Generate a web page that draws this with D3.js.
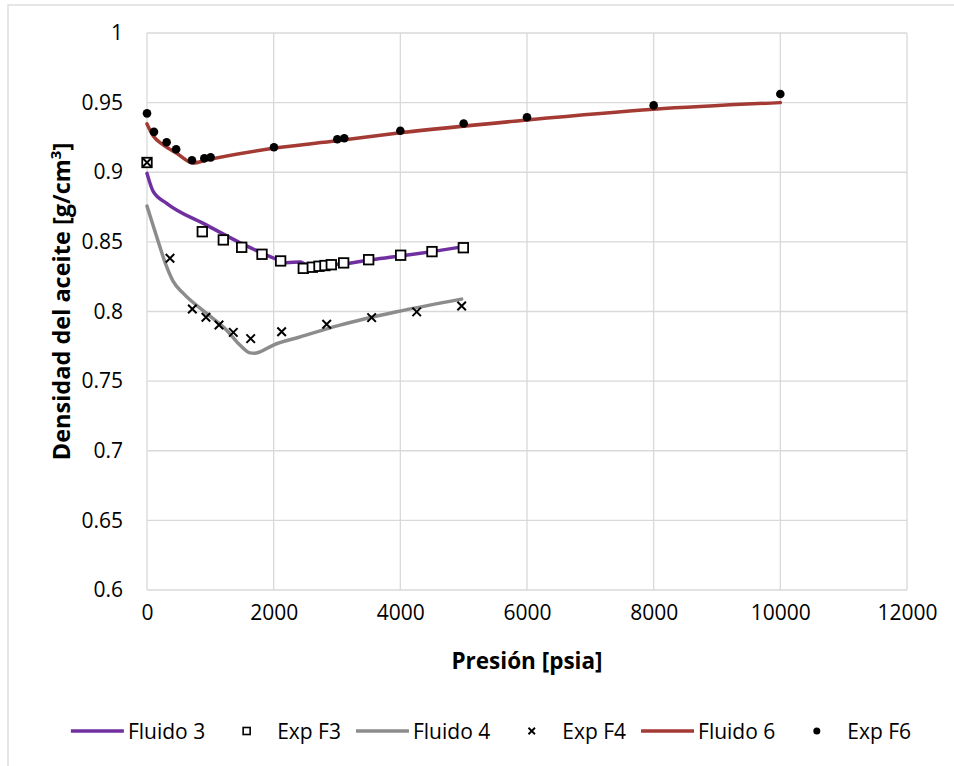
<!DOCTYPE html>
<html>
<head>
<meta charset="utf-8">
<script src="https://cdn.jsdelivr.net/npm/d3@7"></script>
<style>
  html, body { margin: 0; padding: 0; background: #fff; }
  svg { display: block; font-family: "Open Sans", sans-serif; }
</style>
</head>
<body>
<svg id="chart" width="954" height="766"></svg>
<script>
// ---- Data ----
const xTicks = [0, 2000, 4000, 6000, 8000, 10000, 12000];
const yTicks = [0.6, 0.65, 0.7, 0.75, 0.8, 0.85, 0.9, 0.95, 1];

const fluido3P = [0, 100, 310, 942, 1468, 2047, 2205, 2416, 2521, 3047, 3500, 4000, 4500, 5000];
const fluido3D = [0.8992, 0.886, 0.8777, 0.862, 0.8494, 0.8375, 0.8350, 0.8356, 0.8338, 0.8340, 0.837, 0.8398, 0.843, 0.8466];

const expF3P = [0, 873, 1205, 1495, 1816, 2110, 2468, 2610, 2716, 2810, 2910, 3105, 3500, 4005, 4500, 4995];
const expF3D = [0.907, 0.8573, 0.8514, 0.8461, 0.8411, 0.8363, 0.831, 0.8318, 0.8325, 0.833, 0.8336, 0.8349, 0.8372, 0.8404, 0.843, 0.8458];

const fluido4P = [0, 153, 310, 416, 574, 942, 1258, 1468, 1626, 1700, 1784, 1995, 2400, 3047, 3942, 4968];
const fluido4D = [0.8757, 0.8537, 0.8322, 0.8214, 0.813, 0.7986, 0.7866, 0.7759, 0.7703, 0.7700, 0.771, 0.7759, 0.7815, 0.7902, 0.7998, 0.8089];

const expF4P = [0, 363, 716, 931, 1137, 1363, 1637, 2126, 2837, 3547, 4258, 4968];
const expF4D = [0.907, 0.8382, 0.8018, 0.7959, 0.7903, 0.785, 0.7805, 0.7855, 0.7908, 0.7956, 0.7997, 0.8039];

const fluido6P = [0, 100, 257, 468, 731, 942, 1995, 3000, 4000, 6000, 8000, 10000];
const fluido6D = [0.9347, 0.926, 0.9196, 0.9136, 0.9066, 0.9088, 0.9172, 0.9226, 0.9283, 0.9375, 0.9452, 0.95];

const expF6P = [0, 110, 310, 460, 710, 905, 1005, 2005, 3005, 3115, 4000, 5000, 6000, 8000, 10000];
const expF6D = [0.9423, 0.929, 0.9215, 0.9165, 0.9086, 0.910, 0.9107, 0.918, 0.9237, 0.9244, 0.9298, 0.935, 0.9395, 0.948, 0.9562];

const colors = { f3: "#7030A0", f4: "#8C8C8C", f6: "#A33A34" };

// ---- Layout ----
const svg = d3.select("#chart");
const pL = 147, pR = 907, pT = 33, pB = 590;
const x = d3.scaleLinear().domain([0, 12000]).range([pL, pR]);
const y = d3.scaleLinear().domain([0.6, 1]).range([pB, pT]);

// outer chart border
svg.append("rect").attr("x", 8).attr("y", 5).attr("width", 980).attr("height", 800)
  .attr("fill", "none").attr("stroke", "#d9d9d9").attr("stroke-width", 1.3);

// gridlines
const grid = svg.append("g");
grid.selectAll(".gy").data(yTicks).join("line")
  .attr("x1", pL).attr("x2", pR)
  .attr("y1", d => y(d)).attr("y2", d => y(d))
  .attr("stroke", "#d9d9d9").attr("stroke-width", 1.3);
grid.selectAll(".gx").data(xTicks).join("line")
  .attr("y1", pT).attr("y2", pB)
  .attr("x1", d => x(d)).attr("x2", d => x(d))
  .attr("stroke", "#d9d9d9").attr("stroke-width", 1.3);

// axes (labels only)
const fs = 21;
const xAxis = svg.append("g").attr("transform", `translate(0,${pB})`)
  .call(d3.axisBottom(x).tickValues(xTicks).tickFormat(d3.format("d")).tickSize(0).tickPadding(15));
xAxis.select(".domain").remove();
xAxis.selectAll("text").attr("font-size", fs).attr("font-family", "Open Sans").attr("fill", "#000");

const yAxis = svg.append("g").attr("transform", `translate(${pL},0)`)
  .call(d3.axisLeft(y).tickValues(yTicks).tickFormat(d => String(+d.toFixed(2))).tickSize(0).tickPadding(24));
yAxis.select(".domain").remove();
yAxis.selectAll("text").attr("font-size", fs).attr("font-family", "Open Sans").attr("fill", "#000");

// axis titles
const tfs = 22.5;
svg.append("text").attr("x", (pL + pR) / 2).attr("y", 669)
  .attr("text-anchor", "middle").attr("font-size", tfs).attr("font-weight", "bold")
  .text("Presión [psia]");
const yt = svg.append("text").attr("transform", `translate(70,${(pT + pB) / 2 - 10}) rotate(-90)`)
  .attr("text-anchor", "middle").attr("font-size", 23.5).attr("font-weight", "bold");
yt.append("tspan").text("Densidad del aceite [g/cm");
yt.append("tspan").attr("font-size", 15).attr("dy", -9).text("3");
yt.append("tspan").attr("dy", 9).text("]");

// lines
const line = d3.line().x(d => x(d[0])).y(d => y(d[1])).curve(d3.curveMonotoneX);
function drawLine(P, D, c) {
  svg.append("path").datum(P.map((p, i) => [p, D[i]]))
    .attr("d", line).attr("fill", "none").attr("stroke", c)
    .attr("stroke-width", 3.5).attr("stroke-linejoin", "round").attr("stroke-linecap", "round");
}
drawLine(fluido3P, fluido3D, colors.f3);
drawLine(fluido4P, fluido4D, colors.f4);
drawLine(fluido6P, fluido6D, colors.f6);

// markers
function square(g, cx, cy, s) {
  g.append("rect").attr("x", cx - s / 2).attr("y", cy - s / 2).attr("width", s).attr("height", s)
    .attr("fill", "#fff").attr("stroke", "#000").attr("stroke-width", 1.8);
}
function cross(g, cx, cy, s, sw) {
  g.append("path").attr("d", `M${cx - s / 2},${cy - s / 2}L${cx + s / 2},${cy + s / 2}M${cx - s / 2},${cy + s / 2}L${cx + s / 2},${cy - s / 2}`)
    .attr("stroke", "#000").attr("stroke-width", sw).attr("fill", "none");
}
function dot(g, cx, cy, r) {
  g.append("circle").attr("cx", cx).attr("cy", cy).attr("r", r).attr("fill", "#000");
}
const mk = svg.append("g");
expF3P.forEach((p, i) => square(mk, x(p), y(expF3D[i]), 9.5));
expF4P.forEach((p, i) => cross(mk, x(p), y(expF4D[i]), 8.5, 2));
expF6P.forEach((p, i) => dot(mk, x(p), y(expF6D[i]), 4.3));

// legend
const legendItems = [
  { type: "line", c: colors.f3, label: "Fluido 3" },
  { type: "square", label: "Exp F3" },
  { type: "line", c: colors.f4, label: "Fluido 4" },
  { type: "cross", label: "Exp F4" },
  { type: "line", c: colors.f6, label: "Fluido 6" },
  { type: "dot", label: "Exp F6" }
];
const lg = svg.append("g");
let cx = 0;
const ly = 731;
legendItems.forEach(it => {
  const g = lg.append("g").attr("transform", `translate(${cx},0)`);
  const sw = 53;
  if (it.type === "line") {
    g.append("line").attr("x1", 0).attr("x2", sw).attr("y1", ly).attr("y2", ly)
      .attr("stroke", it.c).attr("stroke-width", 3.5);
  } else if (it.type === "square") {
    g.append("rect").attr("x", sw / 2 - 3.5).attr("y", ly - 3.5).attr("width", 7).attr("height", 7)
      .attr("fill", "#fff").attr("stroke", "#000").attr("stroke-width", 1.6);
  } else if (it.type === "cross") {
    cross(g, sw / 2, ly, 6.5, 1.8);
  } else {
    dot(g, sw / 2, ly, 3.5);
  }
  const t = g.append("text").attr("x", sw + 4).attr("y", ly + 7.5).attr("font-size", fs).text(it.label);
  const w = t.node().getComputedTextLength();
  cx += sw + 4 + w + 15;
});
const totalW = cx - 15;
lg.attr("transform", `translate(${(71 + 911) / 2 - totalW / 2},0)`);
</script>
</body>
</html>
